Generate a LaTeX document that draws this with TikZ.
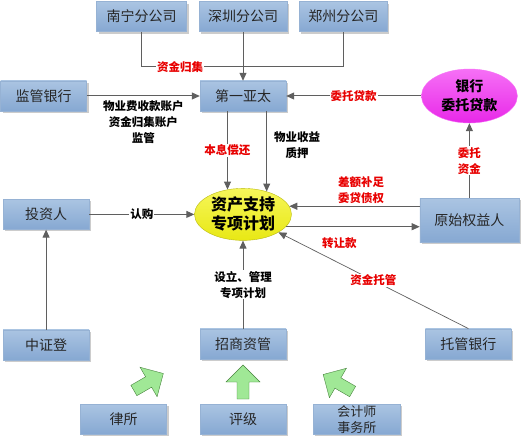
\documentclass[tikz,border=0pt]{standalone}
\usepackage{fontspec}
\setmainfont{Noto Sans CJK SC}
\usepackage{xcolor}
\usetikzlibrary{positioning, arrows.meta, shapes.geometric, shadows}

\definecolor{boxtop}{RGB}{170,196,226}
\definecolor{boxbot}{RGB}{134,168,210}
\definecolor{boxline}{RGB}{150,178,212}
\definecolor{linegray}{RGB}{95,95,95}
\definecolor{labred}{RGB}{232,0,0}
\definecolor{magtop}{RGB}{246,112,246}
\definecolor{magbot}{RGB}{232,40,232}
\definecolor{yeltop}{RGB}{246,246,90}
\definecolor{yelbot}{RGB}{232,232,20}
\definecolor{arrowfill}{RGB}{160,232,150}
\definecolor{arrowline}{RGB}{70,130,60}

\begin{document}
\begin{tikzpicture}[x=1pt, y=1pt, node distance=40pt, >={Triangle[length=8pt,width=7pt]},
    box/.style={rectangle, draw=boxline, top color=boxtop, bottom color=boxbot,
        minimum width=86pt, minimum height=30pt, inner sep=2pt, align=center,
        font=\fontsize{14pt}{17pt}\selectfont, text=black!85,
        drop shadow={shadow xshift=2pt, shadow yshift=-2pt, fill=black, opacity=0.2}},
    loan/.style={ellipse, draw=magtop, top color=magtop, bottom color=magbot,
        minimum width=96pt, minimum height=54pt, inner sep=0pt, align=center,
        font=\bfseries\fontsize{14pt}{19pt}\selectfont},
    plan/.style={ellipse, draw=yelbot!80!black, top color=yeltop, bottom color=yelbot,
        minimum width=97pt, minimum height=52pt, inner sep=0pt, align=center,
        font=\bfseries\fontsize{16pt}{19pt}\selectfont},
    link/.style={draw=linegray, line width=1pt},
    redlab/.style={text=labred, inner sep=1pt, align=center,
        font=\bfseries\fontsize{11.5pt}{16pt}\selectfont},
    blacklab/.style={text=black, inner sep=1pt, align=center,
        font=\bfseries\fontsize{11.5pt}{16pt}\selectfont},
    bigarrow/.pic={\draw[draw=arrowline, fill=arrowfill, line join=miter]
        (-6,-17) -- (-6,0) -- (-17,0) -- (0,17) -- (17,0) -- (6,0) -- (6,-17) -- cycle;}]

    \useasboundingbox (0,0) rectangle (528,-444);

    \node[box] (yatai) at (243,-96) {第一亚太};
    \node[box, minimum width=88pt] (shenzhen) [above=49pt of yatai] {深圳分公司};
    \node[box, minimum width=90pt] (nanning) [left=12pt of shenzhen] {南宁分公司};
    \node[box, minimum width=88pt] (zhengzhou) [right=12pt of shenzhen] {郑州分公司};
    \node[box] (jianguan) [left=113pt of yatai] {监管银行};
    \node[loan] (weituo) [right=135pt of yatai] {银行\\委托贷款};
    \node[plan] (plan) [below=77pt of yatai] {资产支持\\专项计划};
    \node[box] (touzi) [left=105pt of plan] {投资人};
    \node[box, minimum width=99pt, minimum height=44pt] (yuanshi) [right=128pt of plan, yshift=-6pt] {原始权益人};
    \node[box] (zhongzheng) [below=100pt of touzi] {中证登};
    \node[box] (zhaoshang) [below=88pt of plan] {招商资管};
    \node[box] (tuoguan) [right=139pt of zhaoshang] {托管银行};
    \node[box] (pingji) [below=45pt of zhaoshang] {评级};
    \node[box] (lvsuo) [left=33pt of pingji] {律所};
    \node[box, minimum width=87pt, inner ysep=0pt, font=\fontsize{13pt}{16pt}\selectfont] (kuaiji) [right=27pt of pingji] {会计师\\事务所};

    % branch offices
    \coordinate[below=35pt of shenzhen.south] (join);
    \draw[link] (nanning.south) |- node[redlab, fill=white, pos=0.69] {资金归集} (join) -| (zhengzhou.south);
    \draw[link, ->] (shenzhen) -- (yatai);

    \draw[link, ->] (jianguan) -- node[blacklab, below=3pt] {物业费收款账户\\资金归集账户\\监管} (yatai);
    \draw[link, ->] (weituo) -- node[redlab, fill=white] {委托贷款} (yatai);
    \draw[link, ->] (plan.122 |- yatai.south) -- node[redlab, fill=white] {本息偿还} (plan.122);
    \draw[link, ->] (plan.44 |- yatai.south) -- node[blacklab, right=6pt, pos=0.42] {物业收益\\质押} (plan.44);

    \draw[link, ->] (yuanshi) -- node[redlab, fill=white] {委托\\资金} (weituo);
    \draw[link, ->] (yuanshi.west |- plan.10) -- node[redlab, above=1pt, pos=0.45] {差额补足\\委贷债权} (plan.10);
    \draw[link, ->] (plan.344) -- node[redlab, below=9pt, pos=0.4] {转让款} (plan.344 -| yuanshi.west);

    \draw[link, ->] (touzi) -- node[blacklab, fill=white] {认购} (plan);
    \draw[link, ->] (zhongzheng) -- (touzi);
    \draw[link, ->] (zhaoshang) -- node[blacklab, fill=white] {设立、管理\\专项计划} (plan);
    \draw[link, line width=0.7pt, ->] (tuoguan.north) -- node[redlab, fill=white] {资金托管} (plan);

    % service providers
    \pic[rotate=-60] (lvarrow) at ([shift={(25pt,22pt)}]lvsuo.north) {bigarrow};
    \pic (pjarrow) at ([shift={(0pt,22pt)}]pingji.north) {bigarrow};
    \pic[rotate=60] (kjarrow) at ([shift={(-19pt,21pt)}]kuaiji.north) {bigarrow};
\end{tikzpicture}
\end{document}
